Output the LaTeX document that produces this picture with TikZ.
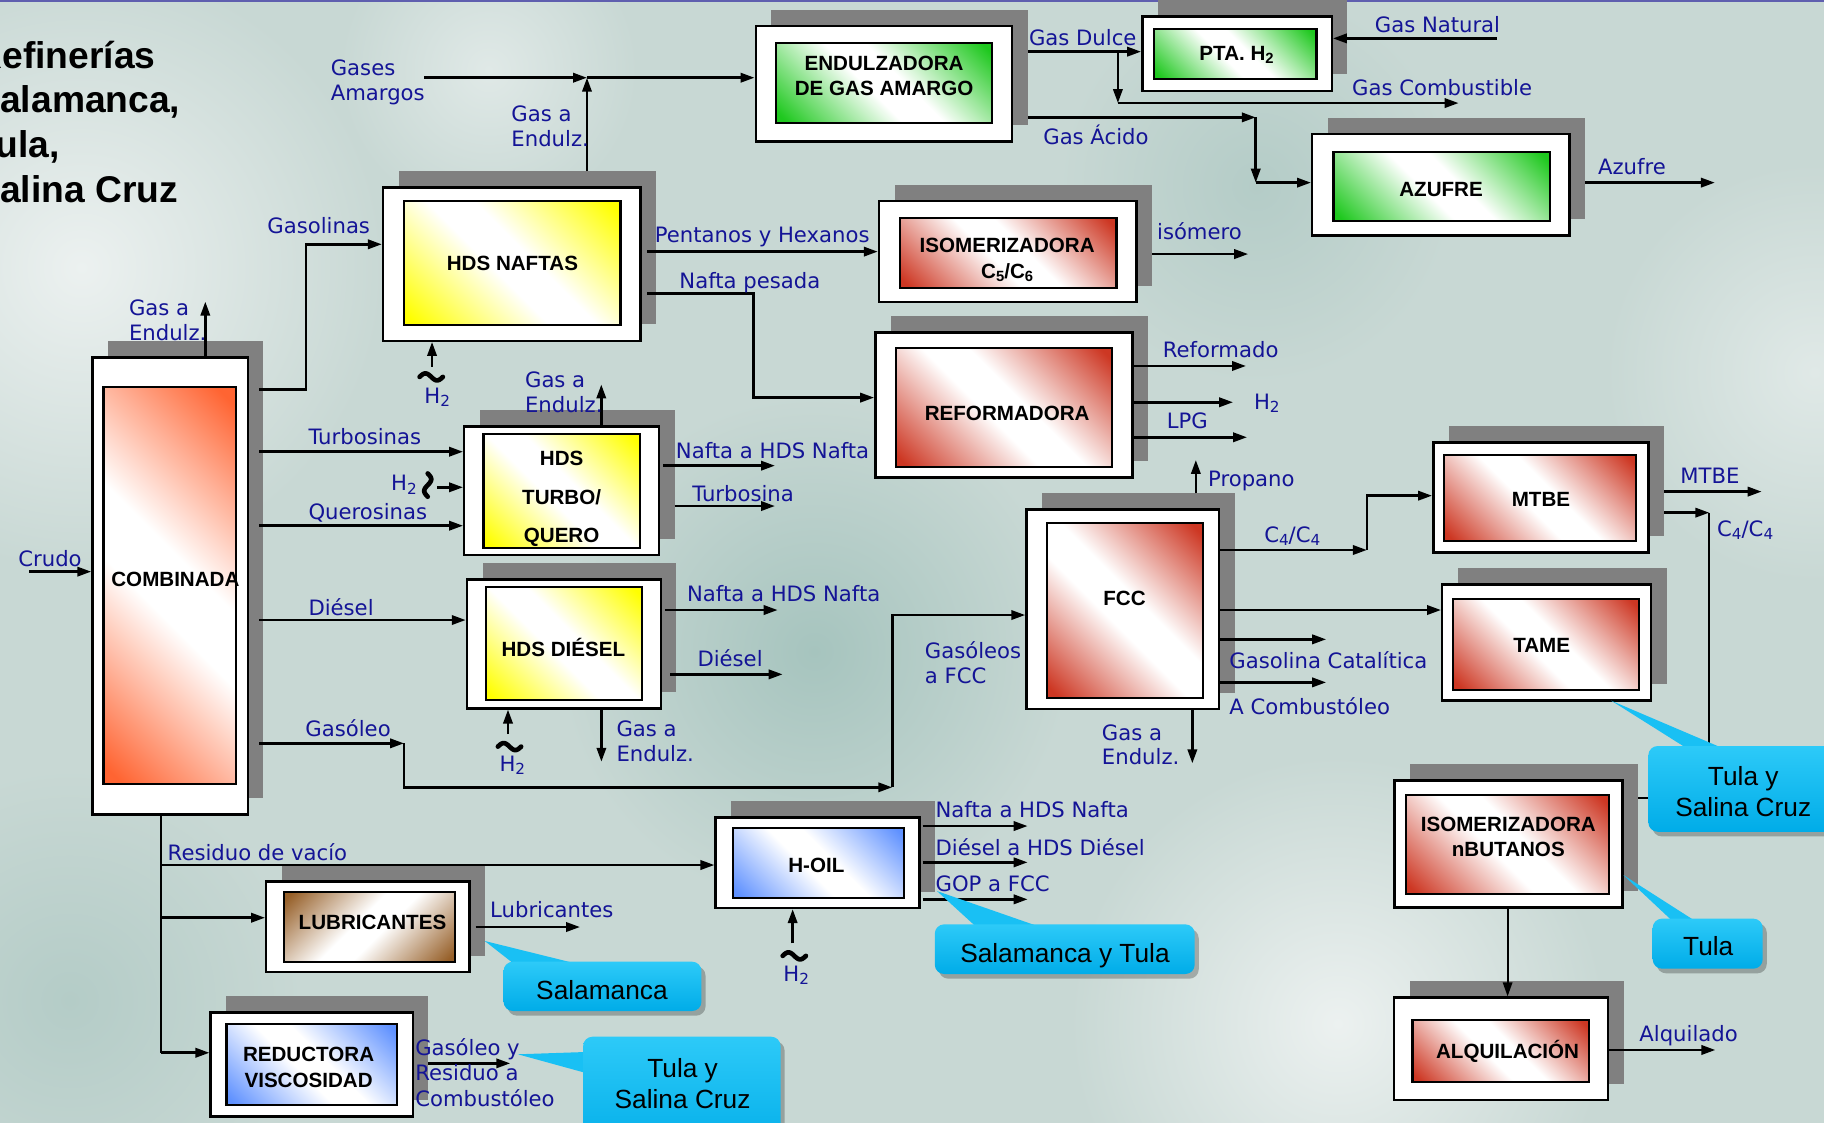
\documentclass[tikz,border=0pt]{standalone}
\usepackage{fontspec}
\setmainfont{Liberation Sans}
\newfontfamily\dejavu{DejaVu Sans}
\usepackage{graphicx}
\usetikzlibrary{arrows.meta,fit,calc}
\pgfdeclarelayer{bgl}\pgfdeclarelayer{shl}\pgfdeclarelayer{cnl}
\pgfsetlayers{bgl,shl,cnl,main}
\definecolor{lblblue}{RGB}{20,20,150}
\definecolor{shadowgray}{RGB}{128,128,128}
\definecolor{cOrange}{RGB}{255,100,50}
\definecolor{cYellow}{RGB}{255,255,0}
\definecolor{cRed}{RGB}{205,55,35}
\definecolor{cGreen}{RGB}{30,200,30}
\definecolor{cBlue}{RGB}{95,145,255}
\definecolor{cBrown}{RGB}{150,95,40}
\definecolor{callT}{RGB}{45,202,248}
\definecolor{callB}{RGB}{0,172,232}
\definecolor{callM}{RGB}{25,192,244}
\definecolor{bgbase}{RGB}{200,216,212}
\definecolor{bgL}{RGB}{236,241,240}
\definecolor{bgL2}{RGB}{224,233,231}
\definecolor{bgD}{RGB}{166,196,190}
\definecolor{bgD2}{RGB}{180,204,199}
\definecolor{cTop}{RGB}{95,95,175}
\newcommand\mkshade[2]{\pgfdeclarehorizontalshading{#1}{100bp}{color(0bp)=(#2); color(17bp)=(#2); color(45bp)=(white); color(55bp)=(white); color(83bp)=(#2); color(100bp)=(#2)}}
\mkshade{shOrange}{cOrange}
\mkshade{shYellow}{cYellow}
\mkshade{shRed}{cRed}
\mkshade{shGreen}{cGreen}
\mkshade{shBlue}{cBlue}
\mkshade{shBrown}{cBrown}
\newcommand\sbs[1]{\raisebox{-0.28ex}{\scalebox{0.72}{#1}}}
\newcommand\ubox[7]{%
  \begin{pgfonlayer}{shl}
    \node[shadowbox, fit={([shift={(13.5,-14)}]#2) ([shift={(13.5,-14)}]#3)}] (#1S) {};
  \end{pgfonlayer}
  \node[outerbox, fit={(#2) (#3)}] (#1) {};
  \node[innerbox, shading=#6, shading angle=#7, fit={(#4) (#5)}] (#1I) {};
}
\newcommand\hsq[2]{\draw[sq] plot[domain=-10:10,samples=31] ({#1+\x},{#2+3*sin(18*\x)});}
\newcommand\vsq[2]{\draw[sq] plot[domain=-10:10,samples=31] ({#1-3*sin(18*\x)},{#2+\x});}
\begin{document}
\begin{tikzpicture}[x=0.5pt,y=-0.5pt,
  shadowbox/.style={fill=shadowgray, draw=none, inner sep=0pt, outer sep=0pt},
  outerbox/.style={fill=white, draw=black, line width=1.05pt, inner sep=0pt},
  innerbox/.style={shade, draw=black, line width=0.9pt, inner sep=0pt},
  conn/.style={draw=black, line width=1.1pt},
  arr/.style={conn, -{Triangle[length=6pt,width=4pt]}},
  thinl/.style={draw=black, line width=0.75pt},
  sq/.style={line width=2pt, line cap=round},
  lbl/.style={text=lblblue, font=\dejavu\fontsize{9.1}{10.7}\selectfont, anchor=base west, inner sep=0pt, align=left},
  btxt/.style={font=\bfseries\fontsize{8.85}{11}\selectfont, anchor=base, inner sep=0pt, align=center},
  cshadow/.style={fill=black, opacity=0.25, rounded corners=4pt},
  callbox/.style={top color=callT, bottom color=callB, draw=none, rounded corners=4pt, inner sep=0pt},
  callptr/.style={fill=callM},
  ctxt/.style={font=\fontsize{11.3}{13.3}\selectfont, anchor=base, inner sep=0pt, align=center}]
\useasboundingbox (0,0) rectangle (1568,965);
% background
\begin{pgfonlayer}{bgl}
\fill[bgbase] (0,0) rectangle (1568,965);
\shade[inner color=bgL, outer color=bgbase] (70,230) circle (260);
\shade[inner color=bgD, outer color=bgbase] (700,560) circle (220);
\shade[inner color=bgD2, outer color=bgbase] (1080,160) circle (170);
\shade[inner color=bgL, outer color=bgbase] (1150,880) circle (230);
\shade[inner color=bgL2, outer color=bgbase] (1560,320) circle (180);
\shade[inner color=bgD2, outer color=bgbase] (60,860) circle (200);
\shade[inner color=bgL2, outer color=bgbase] (420,60) circle (128);
\draw[cTop, line width=1pt] (0,1) -- (1568,1);
\end{pgfonlayer}
% boxes
\ubox{comb}{79.5,307.5}{213,700}{89,333}{202.5,674}{shOrange}{45}
\ubox{hdsn}{329.3,161}{550.7,292.9}{347.3,173}{533.4,279.4}{shYellow}{45}
\ubox{endu}{649.7,22.4}{870,121.5}{667.3,37}{853,105.5}{shGreen}{45}
\ubox{pta}{982,14.3}{1144.8,78}{992.4,24.7}{1131.7,68.2}{shGreen}{45}
\ubox{azu}{1128,115.2}{1349.2,202.3}{1146.3,130.4}{1332.5,190.3}{shGreen}{45}
\ubox{isoc}{755.6,172.8}{977,259.6}{773.7,187.7}{959.8,247.6}{shRed}{45}
\ubox{refo}{752.5,286}{973.6,410.6}{770.2,299.4}{956.3,401.2}{shRed}{45}
\ubox{hdst}{399.1,366.8}{566.5,477.1}{415.6,373.4}{549.9,470.8}{shYellow}{45}
\ubox{hdsd}{401.4,498.3}{568,608.9}{417.5,504.6}{551.9,601.7}{shYellow}{45}
\ubox{fcc}{882.4,438.1}{1047.8,609.7}{900.4,449.9}{1033.8,599.7}{shRed}{45}
\ubox{mtbe}{1232.1,380.2}{1417,475.1}{1241,390.8}{1406.1,464.8}{shRed}{45}
\ubox{tame}{1239.8,502.6}{1419.5,602.3}{1249,514.9}{1409.2,593.1}{shRed}{45}
\ubox{isob}{1198.6,670.8}{1394.6,780}{1208.4,683.4}{1383.4,768.2}{shRed}{45}
\ubox{alq}{1198.2,857.6}{1382.5,945.6}{1214.2,876.8}{1366,930.1}{shRed}{45}
\ubox{hoil}{615.2,702.6}{790.5,780.5}{630.3,711.5}{777.4,772.2}{shBlue}{45}
\ubox{lub}{228.9,757.9}{403.5,835.6}{244.3,766.5}{391.2,827}{shBrown}{-45}
\ubox{red}{181.1,870.5}{354.8,959.9}{194.7,880.5}{341.2,949.9}{shBlue}{45}
% box texts (anchor base = last line)
\node[btxt] (t1) at (150.8,504.3) {COMBINADA};
\node[btxt] (t2) at (440.5,232.7) {HDS NAFTAS};
\node[btxt] (t3) at (760,82.5) {ENDULZADORA\\DE GAS AMARGO};
\node[btxt] (t4) at (1063,51.6) {PTA. H\sbs{2}};
\node[btxt] (t5) at (1238.8,169) {AZUFRE};
\node[btxt] (t6) at (865.8,239.3) {ISOMERIZADORA\\C\sbs{5}/C\sbs{6}};
\node[btxt] (t7) at (865.8,361.6) {REFORMADORA};
\node[btxt, font=\bfseries\fontsize{8.85}{16.5}\selectfont] (t8) at (482.8,466.5) {HDS\\TURBO/\\QUERO};
\node[btxt] (t9) at (484.3,564.5) {HDS DIÉSEL};
\node[btxt] (t10) at (966.7,520.1) {FCC};
\node[btxt] (t11) at (1324.7,435.5) {MTBE};
\node[btxt] (t12) at (1325.3,561) {TAME};
\node[btxt] (t13) at (1296.6,736.4) {ISOMERIZADORA\\nBUTANOS};
\node[btxt] (t14) at (1296,909.8) {ALQUILACIÓN};
\node[btxt] (t15) at (701.8,750.2) {H-OIL};
\node[btxt] (t16) at (320.2,798.6) {LUBRICANTES};
\node[btxt] (t17) at (265.3,934.7) {REDUCTORA\\VISCOSIDAD};
% title
\node[font=\bfseries\fontsize{16}{19.2}\selectfont, anchor=base west, inner sep=0pt, align=left] (ttl) at (-21.5,173.7) {Refinerías\\Salamanca,\\Tula,\\Salina Cruz};
% connectors
\begin{pgfonlayer}{cnl}
\coordinate (crS) at (25,491.4);
\draw[arr] (crS) -- (crS -| comb.west);
\coordinate (cgT) at (176.5,259.3);
\draw[arr] (cgT |- comb.north) -- (cgT);
\coordinate (combR) at ([xshift=4.5pt]comb.east);
\draw[arr] (combR |- 0,334.7) -| (263,210) -- (hdsn.west |- 0,210);
\draw[arr] (combR |- 0,388.3) -- (hdst.west |- 0,388.3);
\draw[arr] (combR |- 0,451.9) -- (hdst.west |- 0,451.9);
\draw[arr] (combR |- 0,533) -- (hdsd.west |- 0,533);
\coordinate (goB) at (347.3,639);
\coordinate (goC) at (767,676.8);
\draw[arr] (combR |- goB) -- (goB);
\draw[arr] (goB) |- (goC);
\draw[arr] (goC) |- (fcc.west |- 0,528.7);
\coordinate (rvX) at (138.2,0);
\coordinate (rv1) at (138.2,743.6);
\coordinate (rv2) at (138.2,788.9);
\coordinate (rv3) at (138.2,905);
\draw[thinl] (rvX |- comb.south) -- (rv3);
\draw[arr] (rv1) -- (rv1 -| hoil.west);
\draw[arr] (rv2) -- (rv2 -| lub.west);
\draw[arr] (rv3) -- (rv3 -| red.west);
\coordinate (nh2) at (371.4,315.2);
\draw[arr] (nh2) -- (nh2 |- hdsn.south);
\coordinate (gJ) at (504.6,66.8);
\draw[arr] (gJ |- hdsnS.north) -- (gJ);
\coordinate (gA) at (364.6,66.8);
\draw[arr] (gA) -- (gJ);
\draw[arr] (gJ) -- (gJ -| endu.west);
\draw[arr] (enduS.east |- 0,44.4) -- (pta.west |- 0,44.4);
\coordinate (gcA) at (961,44.4);
\coordinate (gcB) at (961,88.6);
\coordinate (gcE) at (1253.9,88.6);
\draw[arr] (gcA) -- (gcB);
\draw[arr] (gcB) -- (gcE);
\coordinate (gnS) at (1286.9,33);
\draw[arr] (gnS) -- (gnS -| pta.east);
\coordinate (gaB) at (1079.5,100.9);
\coordinate (gaC) at (1079.5,157);
\draw[arr] (enduS.east |- gaB) -- (gaB);
\draw[arr] (gaB) -- (gaC);
\draw[arr] (gaC) -- (gaC -| azu.west);
\coordinate (azE) at (1474.2,157);
\draw[arr] (azE -| azuS.east) -- (azE);
\coordinate (hnR) at ([xshift=2.3pt]hdsn.east);
\draw[arr] (hnR |- 0,216.3) -- (isoc.west |- 0,216.3);
\draw[arr] (hnR |- 0,252.2) -| (647.8,341.8) -- (refo.west |- 0,341.8);
\draw[arr] (isocS.east |- 0,218.4) -- (1073,218.4);
\draw[arr] (refo.east |- 0,314.6) -- (1071.1,314.6);
\draw[arr] (refo.east |- 0,345.8) -- (1060,345.8);
\draw[arr] (refo.east |- 0,375.9) -- (1072,375.9);
\coordinate (prT) at (1028,395.4);
\draw[arr] (prT |- fccS.north) -- (prT);
\coordinate (tgT) at (516.9,330.5);
\draw[arr] (tgT |- hdst.north) -- (tgT);
\coordinate (th2) at (376,418.9);
\draw[arr] (th2) -- (th2 -| hdst.west);
\draw[arr] ([xshift=1.2pt]hdst.east |- 0,400.3) -- (666.2,400.3);
\draw[arr] (hdstS.east |- 0,435) -- (666.2,435);
\draw[arr] ([xshift=1.2pt]hdsd.east |- 0,524.4) -- (668.5,524.4);
\draw[arr] ([xshift=3.5pt]hdsd.east |- 0,579.7) -- (672.8,579.7);
\coordinate (dh2) at (436.7,631);
\draw[arr] (dh2) -- (dh2 |- hdsd.south);
\coordinate (dgE) at (517,654.8);
\draw[arr] (dgE |- hdsd.south) -- (dgE);
\coordinate (c4B) at (1175,472.8);
\draw[arr] (fcc.east |- c4B) -- (c4B);
\draw[arr] (c4B) |- (mtbe.west |- 0,426.1);
\draw[arr] (fcc.east |- 0,524.4) -- (tame.west |- 0,524.4);
\draw[arr] (fcc.east |- 0,549.6) -- (1140,549.6);
\draw[arr] (fcc.east |- 0,586.6) -- (1140,586.6);
\coordinate (fgE) at (1025,656.2);
\draw[arr] (fgE |- fcc.south) -- (fgE);
\draw[arr] (mtbeS.east |- 0,422.6) -- (1514.4,422.6);
\coordinate (m4B) at (1469.4,440.7);
\draw[arr] (mtbeS.east |- m4B) -- (m4B);
\draw[thinl] (m4B) |- (isobS.east |- 0,686.3);
\coordinate (iaX) at (1296,0);
\draw[arr, line width=0.8pt] (iaX |- isob.south) -- (iaX |- alq.north);
\draw[arr] (alq.east |- 0,902.6) -- (1474.6,902.6);
\coordinate (hh2) at (681.4,810.9);
\draw[arr] (hh2) -- (hh2 |- hoil.south);
\draw[arr] ([xshift=0.8pt]hoil.east |- 0,710.1) -- (883.4,710.1);
\draw[arr] ([xshift=0.8pt]hoil.east |- 0,741.3) -- (883.4,741.3);
\draw[arr] ([xshift=0.8pt]hoil.east |- 0,773.1) -- (883.4,773.1);
\draw[arr] ([xshift=2.2pt]lub.east |- 0,796.9) -- (498.6,796.9);
\draw[arr] (redS.east |- 0,914.1) -- (438.6,914.1);
\end{pgfonlayer}
% squiggles
\hsq{370.7}{324}
\vsq{367.7}{417}
\hsq{438}{641.8}
\hsq{682.8}{821.7}
% labels (anchor base = last line)
\node[lbl] (l01) at (284,86.6) {Gases\\Amargos};
\node[lbl] (l02) at (439.3,126.1) {Gas a\\Endulz.};
\node[lbl] (l03) at (884.2,38.7) {Gas Dulce};
\node[lbl] (l04) at (1181.5,28.1) {Gas Natural};
\node[lbl] (l05) at (1162,82.5) {Gas Combustible};
\node[lbl] (l06) at (896.5,124.6) {Gas Ácido};
\node[lbl] (l07) at (1373.4,149.6) {Azufre};
\node[lbl] (l08) at (229.5,200.6) {Gasolinas};
\node[lbl] (l09) at (562.6,208.3) {Pentanos y Hexanos};
\node[lbl] (l10) at (583.7,247.8) {Nafta pesada};
\node[lbl] (l11) at (994.3,205.7) {isómero};
\node[lbl] (l12) at (110.5,292.3) {Gas a\\Endulz.};
\node[lbl] (l13) at (364.5,347) {H\sbs{2}};
\node[lbl] (l14) at (999.3,307.5) {Reformado};
\node[lbl] (l15) at (1077.6,351.9) {H\sbs{2}};
\node[lbl] (l16) at (1002.6,368.2) {LPG};
\node[lbl] (l17) at (451,354.5) {Gas a\\Endulz.};
\node[lbl] (l18) at (264.8,382.5) {Turbosinas};
\node[lbl] (l19) at (580.7,394) {Nafta a HDS Nafta};
\node[lbl] (l20) at (335.8,422) {H\sbs{2}};
\node[lbl] (l21) at (1038.2,418.3) {Propano};
\node[lbl] (l22) at (1444.2,416) {MTBE};
\node[lbl] (l23) at (594.7,431.3) {Turbosina};
\node[lbl] (l24) at (264.8,447) {Querosinas};
\node[lbl] (l25) at (1086.4,466.5) {C\sbs{4}/C\sbs{4}};
\node[lbl] (l26) at (1475.7,461.3) {C\sbs{4}/C\sbs{4}};
\node[lbl] (l27) at (15.4,487) {Crudo};
\node[lbl] (l28) at (590.3,517.2) {Nafta a HDS Nafta};
\node[lbl] (l29) at (264.8,528.7) {Diésel};
\node[lbl] (l30) at (794.7,587.4) {Gasóleos\\a FCC};
\node[lbl] (l31) at (599.2,573.1) {Diésel};
\node[lbl] (l32) at (1056.5,574.5) {Gasolina Catalítica};
\node[lbl] (l33) at (1056.5,614.6) {A Combustóleo};
\node[lbl] (l34) at (262.2,633.3) {Gasóleo};
\node[lbl] (l35) at (529.6,654.8) {Gas a\\Endulz.};
\node[lbl] (l36) at (946.9,657.6) {Gas a\\Endulz.};
\node[lbl] (l37) at (429,663.4) {H\sbs{2}};
\node[lbl] (l38) at (803.9,702.6) {Nafta a HDS Nafta};
\node[lbl] (l39) at (803.9,735.8) {Diésel a HDS Diésel};
\node[lbl] (l40) at (803.9,766.5) {GOP a FCC};
\node[lbl] (l41) at (143.8,739.3) {Residuo de vacío};
\node[lbl] (l42) at (421,788.8) {Lubricantes};
\node[lbl] (l43) at (673.1,843.9) {H\sbs{2}};
\node[lbl, font=\dejavu\fontsize{9.1}{11}\selectfont] (l44) at (356.6,951) {Gasóleo y\\Residuo a\\Combustóleo};
\node[lbl] (l45) at (1408.9,895.4) {Alquilado};
% callouts
\fill[cshadow] (436.4,830.7) rectangle (606.5,873.1);
\fill[callptr] (416.7,808.9) -- (443,829.5) -- (500,829.5) -- cycle;
\node[callbox, fit={(432.9,826.7) (603,869.1)}] (cSal) {};
\node[ctxt] (tSal) at (517.5,859.6) {Salamanca};
\fill[cshadow] (807.1,798.6) rectangle (1030.5,841.3);
\fill[callptr] (805.5,766) -- (840,797.5) -- (896,797.5) -- cycle;
\node[callbox, fit={(803.6,794.6) (1027,837.3)}] (cSyT) {};
\node[ctxt] (tSyT) at (915.5,827.5) {Salamanca y Tula};
\fill[cshadow] (504.8,895.2) rectangle (674.5,999);
\fill[callptr] (445.2,906.3) -- (504.5,904.3) -- (504.5,922.6) -- cycle;
\node[callbox, fit={(501.3,891.2) (671,995)}] (cTSb) {};
\node[ctxt] (tTSb) at (586.8,952.8) {Tula y\\Salina Cruz};
\fill[cshadow] (1420.5,645.3) rectangle (1583.5,719);
\fill[callptr] (1385,602.3) -- (1452,644.5) -- (1484,644.5) -- cycle;
\node[callbox, fit={(1417,641.3) (1580,715)}] (cTSr) {};
\node[ctxt] (tTSr) at (1498.6,702) {Tula y\\Salina Cruz};
\fill[cshadow] (1424.2,793.7) rectangle (1518.8,836.7);
\fill[callptr] (1395.5,752.2) -- (1438.5,792.5) -- (1458.5,792.5) -- cycle;
\node[callbox, fit={(1420.7,789.7) (1515.3,832.7)}] (cTul) {};
\node[ctxt] (tTul) at (1468.5,821.8) {Tula};
\end{tikzpicture}
\end{document}
